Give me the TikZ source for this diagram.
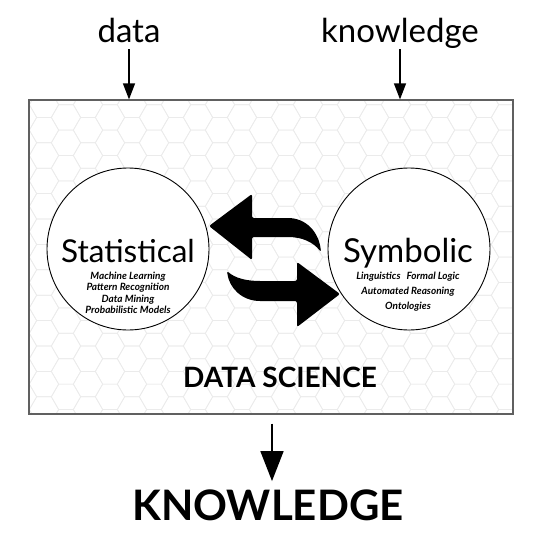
\documentclass[tikz,border=0pt]{standalone}
\usepackage{fontspec}
\setmainfont{Lato}
\usetikzlibrary{arrows.meta}
\begin{document}
\begin{tikzpicture}[x=1pt,y=-1pt,
  hexline/.style={draw=gray!16,line width=0.7pt},
  framebox/.style={draw=gray!75!black,line width=1.2pt,minimum width=484pt,minimum height=314pt,inner sep=0pt},
  circ/.style={circle,draw=black,fill=white,line width=0.9pt,minimum size=162pt,inner sep=0pt},
  toplabel/.style={anchor=base,font=\fontsize{33}{36}\selectfont,inner sep=0pt},
  bigtitle/.style={anchor=base,font=\fontsize{33}{38}\selectfont,inner sep=0pt},
  sublist/.style={anchor=base,font=\bfseries\itshape\fontsize{10}{11.3}\selectfont,align=center,inner sep=0pt},
  smallarrow/.style={-{Triangle[length=16pt,width=12pt]},line width=1.2pt},
  bigarrow/.style={-{Triangle[length=30pt,width=23pt]},line width=1.6pt},
  swoosh/.style={fill=black,rounded corners=2pt}]
\useasboundingbox (0,0) rectangle (537,538);
% frame and hexagon background
\begin{scope}
\clip (29,100) rectangle (513,414);
\foreach \i in {0,...,25}{
  \foreach \j in {0,...,14}{
    \pgfmathsetmacro\hx{22+\i*22}
    \pgfmathsetmacro\hy{92+\j*25.4+mod(\i,2)*12.7}
    \draw[hexline] (\hx,\hy) +(0:14.67) -- +(60:14.67) -- +(120:14.67) -- +(180:14.67) -- +(240:14.67) -- +(300:14.67) -- cycle;
  }
}
\end{scope}
\node[framebox] (frame) at (271,257) {};
% top labels
\node[toplabel] (data) at (129,42) {data};
\node[toplabel] (know) at (400,42) {knowledge};
\draw[smallarrow] ([yshift=-7pt]data.base) -- (data.base |- frame.north);
\draw[smallarrow] ([yshift=-7pt]know.base) -- (know.base |- frame.north);
% circles
\node[circ] (stat) at (128,249) {};
\node[circ] (symb) at (409,249) {};
\node[bigtitle,font=\fontsize{31.5}{36}\selectfont] (statT) at (128,262) {Statistical};
\node[sublist,anchor=north] (statL) at (128,272) {Machine Learning\\Pattern Recognition\\Data Mining\\Probabilistic Models};
\node[bigtitle] (symbT) at (408,262) {Symbolic};
\node[sublist,anchor=north,font=\bfseries\itshape\fontsize{10}{15}\selectfont] (symbL) at (408,272) {Linguistics\hspace{0.6em}Formal Logic\\Automated Reasoning\\Ontologies};
% swoosh arrows
\fill[swoosh] (252,218) -- (286,218) .. controls (306,218) and (319,232) .. (321,252)
  .. controls (313,242) and (302,237) .. (286,237) -- (252,237) -- (252,260) -- (209,226) -- (252,194) -- cycle;
\fill[swoosh] (297,301) -- (262,301) .. controls (242,301) and (229,288) .. (227,271)
  .. controls (235,278) and (246,281) .. (262,281) -- (297,281) -- (297,262) -- (340,294) -- (297,327) -- cycle;
% titles
\node[anchor=base,font=\bfseries\fontsize{28}{30}\selectfont,inner sep=0pt] (ds) at (280,387) {DATA SCIENCE};
\node[anchor=base,font=\bfseries\fontsize{42}{44}\selectfont,inner sep=0pt] (kn) at (268,520) {KNOWLEDGE};
\coordinate (dstart) at ([yshift=-9pt]frame.south -| 272,0);
\draw[bigarrow] (dstart) -- ([yshift=8pt]kn.north -| dstart);
\end{tikzpicture}
\end{document}
